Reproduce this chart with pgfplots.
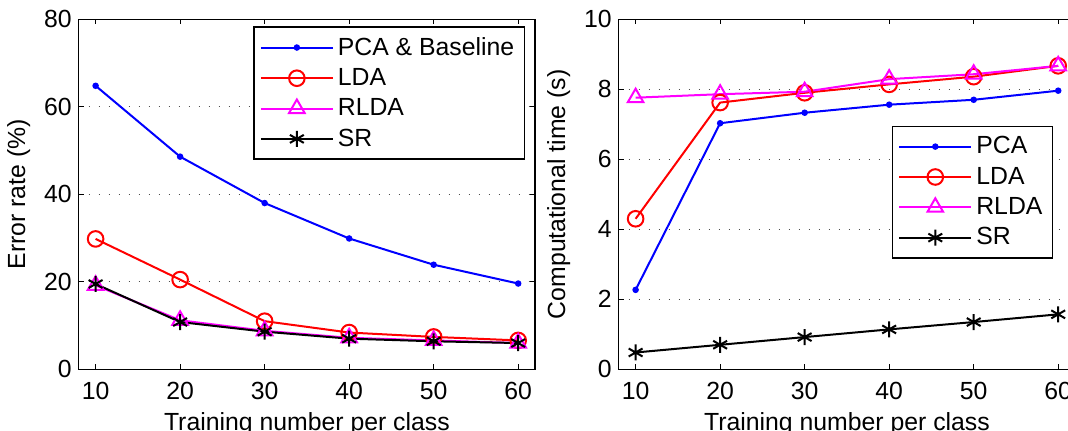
\documentclass[border=0pt]{standalone}
\usepackage{fontspec}
\setmainfont{Liberation Sans}
\usepackage{pgfplots}
\pgfplotsset{compat=1.18}

\definecolor{mblue}{rgb}{0,0,1}
\definecolor{mred}{rgb}{1,0,0}
\definecolor{mmag}{rgb}{1,0,1}

\pgfplotsset{
  mlab/.style={
    scale only axis, width=228.2pt, height=175pt,
    xmin=8, xmax=62, xtick={10,20,...,60},
    tick align=inside, major tick length=2.5pt,
    axis line style={line width=0.75pt}, every tick/.style={black, line width=0.5pt},
    ymajorgrids, grid style={black!70, line width=0.6pt, dash pattern=on 0.6pt off 4.4pt},
    font=\fontsize{12.4}{15}\selectfont,
    /pgf/number format/assume math mode=true,
    xticklabel style={yshift=-3pt},
    xlabel={Training number per class},
    xlabel style={at={(axis description cs:0.5,0)}, anchor=base, yshift=-30.5pt},
    legend cell align=left,
    legend style={draw=black, line width=0.75pt, font=\fontsize{12.4}{15}\selectfont,
      inner xsep=3pt, inner ysep=3pt, row sep=1.1pt},
    legend image code/.code={\draw[mark repeat=2,mark phase=2] plot coordinates {(0pt,0pt)(18pt,0pt)(36pt,0pt)};},
  },
  pca/.style={mblue, line width=1pt, mark=*, mark size=1.1pt},
  lda/.style={mred, line width=1pt, mark=o, mark size=3.9pt, mark options={line width=1pt}},
  rlda/.style={mmag, line width=1pt, mark=triangle, mark size=4.5pt, mark options={line width=1pt}},
  sr/.style={black, line width=1pt, mark=asterisk, mark size=4pt, mark options={line width=1pt}},
}

\begin{document}
\begin{tikzpicture}[x=1pt,y=1pt]
\useasboundingbox (0,0) rectangle (534,215.5);

\begin{axis}[mlab, at={(39.35pt,30.85pt)}, anchor=south west,
  ymin=0, ymax=80, ytick={0,20,...,80},
  ylabel={Error rate (\%)},
  legend style={at={(0.978,0.98)}, anchor=north east}]
\addplot[pca] coordinates {(10,64.8)(20,48.6)(30,38.0)(40,29.9)(50,23.9)(60,19.6)};
\addlegendentry{PCA \& Baseline}
\addplot[lda] coordinates {(10,29.8)(20,20.5)(30,11.0)(40,8.4)(50,7.4)(60,6.6)};
\addlegendentry{LDA}
\addplot[rlda] coordinates {(10,19.2)(20,11.2)(30,8.8)(40,7.2)(50,6.6)(60,6.0)};
\addlegendentry{RLDA}
\addplot[sr] coordinates {(10,19.5)(20,10.8)(30,8.6)(40,7.0)(50,6.4)(60,6.0)};
\addlegendentry{SR}
\end{axis}

\begin{axis}[mlab, at={(309.35pt,30.85pt)}, anchor=south west,
  ymin=0, ymax=10, ytick={0,2,...,10},
  ylabel={Computational time (s)},
  legend style={at={(0.952,0.696)}, anchor=north east}]
\addplot[pca] coordinates {(10,2.27)(20,7.03)(30,7.33)(40,7.56)(50,7.70)(60,7.96)};
\addlegendentry{PCA}
\addplot[lda] coordinates {(10,4.30)(20,7.62)(30,7.90)(40,8.14)(50,8.36)(60,8.67)};
\addlegendentry{LDA}
\addplot[rlda] coordinates {(10,7.76)(20,7.86)(30,7.93)(40,8.29)(50,8.43)(60,8.67)};
\addlegendentry{RLDA}
\addplot[sr] coordinates {(10,0.48)(20,0.70)(30,0.92)(40,1.14)(50,1.35)(60,1.57)};
\addlegendentry{SR}
\end{axis}
\end{tikzpicture}
\end{document}
